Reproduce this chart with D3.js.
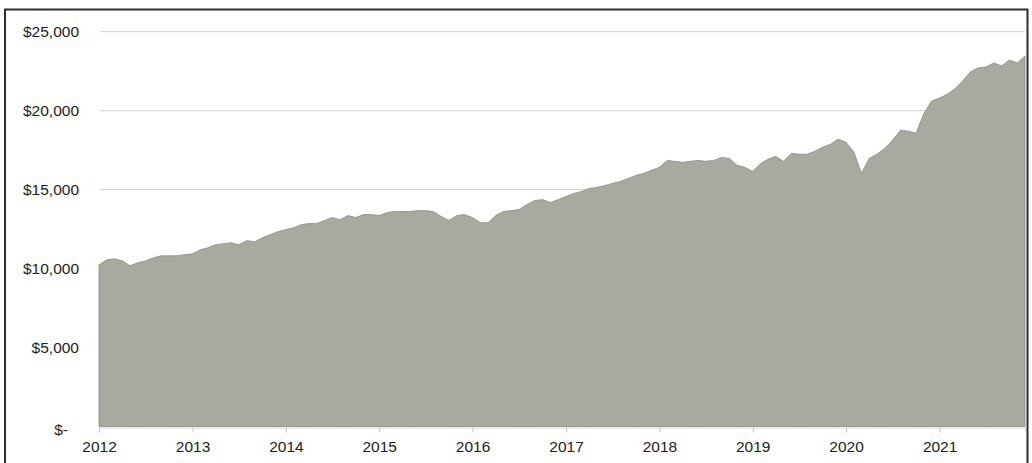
<!DOCTYPE html>
<html>
<head>
<meta charset="utf-8">
<script src="https://cdn.jsdelivr.net/npm/d3@7"></script>
<style>
	body { margin: 0; background: #fff; }
	svg { display: block; font-family: "Liberation Sans", Arial, sans-serif; }
	.grid line { stroke: #d2d2d4; stroke-width: 1; }
	.tick text { fill: #222; font-size: 15.5px; }
</style>
</head>
<body>
<div id="chart-container"></div>
<script>
// monthly values, Jan 2012 .. Dec 2021
let startYear	= 2012;
let values2012	= [10240, 10560, 10620, 10490, 10180, 10370, 10490, 10680, 10810, 10810, 10810, 10880];
let values2013	= [10940, 11190, 11320, 11510, 11580, 11640, 11510, 11770, 11700, 11960, 12150, 12340];
let values2014	= [12470, 12590, 12780, 12850, 12850, 13040, 13230, 13100, 13360, 13230, 13420, 13420];
let values2015	= [13360, 13550, 13610, 13610, 13610, 13670, 13670, 13610, 13290, 13040, 13360, 13420];
let values2016	= [13230, 12910, 12910, 13360, 13610, 13670, 13740, 14060, 14310, 14370, 14180, 14370];
let values2017	= [14560, 14760, 14880, 15070, 15140, 15260, 15390, 15520, 15710, 15900, 16030, 16220];
let values2018	= [16410, 16850, 16790, 16730, 16790, 16850, 16790, 16850, 17040, 16980, 16540, 16410];
let values2019	= [16150, 16660, 16920, 17110, 16790, 17300, 17240, 17240, 17430, 17680, 17870, 18190];
let values2020	= [18000, 17360, 16030, 16980, 17240, 17620, 18130, 18760, 18700, 18570, 19840, 20610];
let values2021	= [20800, 21050, 21370, 21880, 22450, 22710, 22770, 23020, 22830, 23210, 23020, 23470];

let yTicks		= [0, 5000, 10000, 15000, 20000, 25000];
let xTickYears	= [2012, 2013, 2014, 2015, 2016, 2017, 2018, 2019, 2020, 2021];

let allValues = [].concat(values2012, values2013, values2014, values2015, values2016,
	values2017, values2018, values2019, values2020, values2021);
let data = allValues.map((v, i) => ({ date: new Date(startYear, i, 1), value: v }));

let canvasWidth		= 1032;
let canvasHeight	= 463;
let margin			= { top: 31.7, right: 7, bottom: 36.5, left: 99 };
let width			= canvasWidth - margin.left - margin.right;
let height			= canvasHeight - margin.top - margin.bottom;

let x = d3.scaleTime()
	.domain([data[0].date, data[data.length - 1].date])
	.range([0, width]);
let y = d3.scaleLinear().domain([0, 25000]).range([height, 0]);

let root = d3.select('#chart-container').append('svg')
	.attr('width', canvasWidth)
	.attr('height', canvasHeight);

// outer frame (bottom edge is cut off by the picture)
root.append('rect')
	.attr('x', 5).attr('y', 9.5)
	.attr('width', 1022.5).attr('height', 500)
	.attr('fill', 'none')
	.attr('stroke', '#2e2e2e')
	.attr('stroke-width', 2);

let svg = root.append('g')
	.attr('transform', 'translate(' + margin.left + ',' + margin.top + ')');

// gridlines
svg.append('g').attr('class', 'grid')
	.selectAll('line')
	.data(yTicks.filter((t) => t > 0))
	.enter().append('line')
	.attr('x1', 1).attr('x2', width)
	.attr('y1', (t) => y(t)).attr('y2', (t) => y(t));

let area = d3.area()
	.x((o) => x(o.date))
	.y0(y(0))
	.y1((o) => y(o.value));

svg.append('path')
	.datum(data)
	.attr('d', area)
	.attr('fill', '#aaa99f')
	.attr('stroke', '#8d8c84')
	.attr('stroke-width', 0.8)
	.attr('stroke-linejoin', 'round');

// y axis, accounting style labels
let fmt = d3.format(',');
let yAxis = svg.append('g')
	.call(d3.axisLeft(y).tickValues(yTicks).tickSize(0).tickPadding(20)
		.tickFormat((t) => t === 0 ? '$-' : '$' + fmt(t)));
yAxis.select('.domain').remove();
yAxis.selectAll('.tick')
	.filter((t) => t === 0)
	.select('text')
	.attr('dx', -11)
	.attr('dy', '0.52em');

// x axis
let xAxis = svg.append('g')
	.attr('transform', 'translate(0,' + (height + 1) + ')')
	.call(d3.axisBottom(x)
		.tickValues(xTickYears.map((yr) => new Date(yr, 0, 1)))
		.tickSize(5).tickPadding(8)
		.tickFormat(d3.timeFormat('%Y')));
xAxis.select('.domain').attr('stroke', '#d6d6d6');
xAxis.selectAll('.tick line').attr('stroke', '#c4c4c4');
</script>
</body>
</html>
